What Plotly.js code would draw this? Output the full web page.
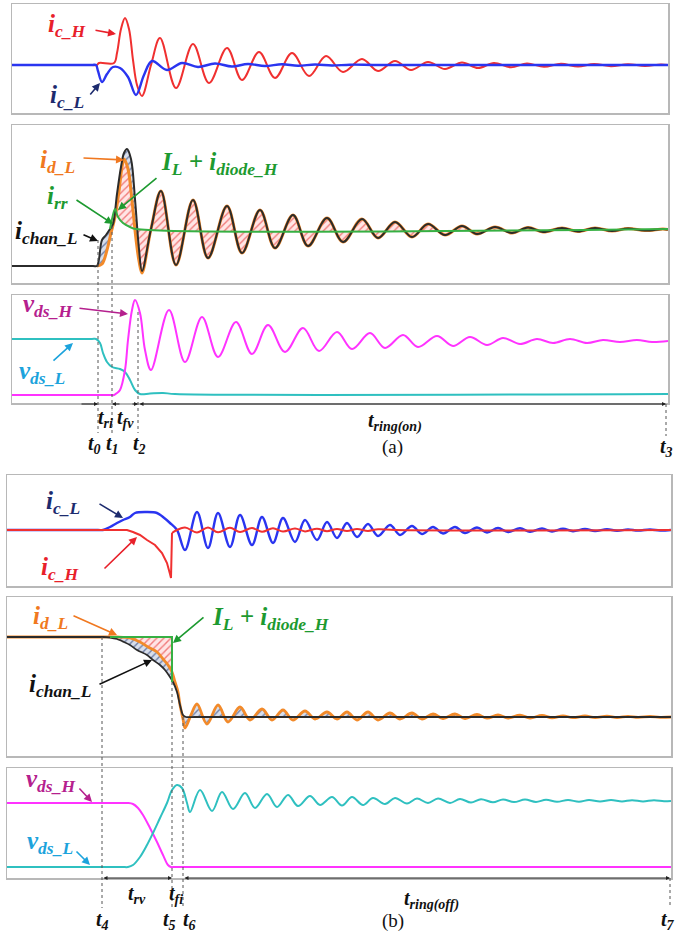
<!DOCTYPE html>
<html><head><meta charset="utf-8">
<script src="https://cdn.plot.ly/plotly-3.0.1.min.js"></script>
<style>html,body{margin:0;padding:0;background:#fff}#chart{width:675px;height:932px}</style>
</head><body><div id="chart"></div>
<script>
// ---------- (a) turn-on: panel 1, capacitor currents (amplitude vs time) ----------
const A1_t_icH = [12,92,97,99,114,117,121,125,129,133,137,142,151,160,176,193,209,227,242,259,275,292,309,326,343,362,378,395,411,428,445,462,478,494,511,527,544,561,578,594,611,628,645,661,668];
const A1_icH   = [0,0,0,2,2,12,36,47,36,5,-20,-31,0,27,-23,21,-18,17,-15,13,-13,12,-11,9,-7,6,-6,4,-5,3,-4,2.5,-3,2,-2.3,1.5,-1.8,1.2,-1.5,1,-1.2,0.8,-1,0.6,0];
const A1_t_icL = [12,92,96,98,102,107,113,120,128,136,144,152,167,182,198,215,232,248,265,282,298,315,332,350,380,668];
const A1_icL   = [0,0,0,-6,-17,-9,-2,-3,-12,-30,-10,4,-5,2,-2,1.5,-1.5,1,-1,0.8,-0.8,0.5,-0.5,0.3,0,0];
// ---------- (a) panel 2, drain / channel currents ----------
const A2_t_chan = [12,93,97,99,102,106,110,113,117,121,124,127,131,135,139,142,151,161,176,193,208,227,242,260,275,293,308,327,343,362,378,395,412,428,445,462,477,495,512,528,543,562,578,595,612,628,645,663,668];
const A2_chan   = [-37,-37,-37,-30,-11,-6,0,5,35,62,76,80,70,30,-20,-42,0,38,-36,29,-29,23,-24,19,-19,14,-17,11,-13,10,-9,7,-8,5,-6,3,-5,2,-4,1.5,-3,1,-2.5,1,-2,0.5,-1.5,0,-0.5];
const A2_t_id = [97,102,107,111,115,119,122,124,128,132,136,139,142,151,161,176,193,208,227,242,260,275,293,308,327,343,362,378,395,412,428,445,462,477,495,512,528,543,562,578,595,612,628,645,663,668];
const A2_id   = [-37,-35,-21,-4,12,38,62,70,60,28,-10,-32,-44,0,38,-36,29,-29,23,-24,19,-19,14,-17,11,-13,10,-9,7,-8,5,-6,3,-5,2,-4,1.5,-3,1,-2.5,1,-2,0.5,-1.5,0,-0.5];
const A2_t_IL = [110,112,115,118,123,130,136,668];
const A2_IL   = [0,10,20,12,6,2,0,0];
// ---------- (a) panel 3, drain-source voltages ----------
const A3_t_vL = [12,92,96,100,103,107,112,120,125,130,135,140,150,163,175,668];
const A3_vL   = [55,55,55,51,41,32,27,25,22,14,4,0,0.5,1,0,0];
const A3_t_vH = [12,110,114,117,120,125,128,132,135,140,145,151,169,185,202,218,236,252,268,285,303,319,337,352,370,385,403,418,437,453,470,487,503,520,537,553,570,587,603,620,637,652,668];
const A3_vH   = [-1,-1,-1,1,4,24,54,84,94,81,44,24,84,32,77,37,72,40,69,42,66,43,62,45,61,46,59,47,58,48,57,49,56,50,55,51,55,51,54,52,54,52,53];
// ---------- (b) turn-off: panel 4, capacitor currents ----------
const B1_t_icL = [7,98,103,110,117,123,130,135,147,157,163,170,177,185,197,208,218,230,240,252,262,273,283,295,305,317,327,337,347,357,368,378,390,400,412,422,433,443,455,465,477,487,498,508,520,530,542,552,563,573,585,595,607,617,628,638,650,660,671];
const B1_icL   = [0,0,0,3,7,10,13,17,18,17,13,7,0,-20,18,-18,17,-17,15,-15,13,-13,12,-12,10,-10,8,-8,7,-7,6,-6,5,-5,4,-4,3,-3.5,3,-3,2.5,-2.5,2,-2,1.8,-1.8,1.5,-1.5,1.2,-1.2,1,-1,0.8,-0.8,0.6,-0.6,0.5,-0.5,0];
const B1_t_icH = [7,127,133,140,147,155,162,167,170,171,172,175,185,197,208,218,230,240,252,262,273,283,295,305,317,327,337,347,357,368,378,395,671];
const B1_icH   = [0,0,-2,-5,-10,-15,-23,-33,-44,-48,-3,-1,2.5,-2.5,2.5,-2.3,2.2,-2,2,-1.8,1.8,-1.6,1.5,-1.4,1.3,-1.2,1.1,-1,1,-0.9,0.8,0,0];
// ---------- (b) panel 5, drain / channel currents ----------
const B2_t_chan = [7,98,103,110,117,124,130,137,147,153,160,165,170,173,177,180,183,186,195,671];
const B2_chan   = [80,80,80,79.5,78,75,72,67,62,57,52,47,40,35,25,12,2,0,0,0];
const B2_t_id = [7,98,103,117,130,140,148,157,163,168,172,175,178,180,183,185,191,197,207,218,228,240,250,262,272,283,293,305,315,327,337,347,357,368,378,390,400,412,422,433,443,455,465,477,487,498,508,520,530,542,552,563,573,585,595,607,617,628,638,650,660,671];
const B2_id   = [80,80,80,80,79,75,70,65,58,52,45,35,25,12,-2,-11,2,13,-7,12,-5,10,-3,8,-3,7,-3,6,-2,5,-2,5,-3,5,-3,4,-2,4,-2,3,-1.5,3,-1.5,2.5,-1.2,2,-1,1.8,-1,1.5,-0.8,1.2,-0.7,1,-0.6,0.8,-0.5,0.6,-0.4,0.5,-0.3,0];
const B2_t_IL = [110,172,172];
const B2_IL   = [80,80,35];
// ---------- (b) panel 6, drain-source voltages ----------
const B3_t_vH = [7,122,128,133,138,143,150,157,163,168,171,175,671];
const B3_vH   = [64,64,64,63,59,52,39,25,12,2,0,0,0];
const B3_t_vL = [7,122,128,133,140,147,153,160,167,172,177,182,187,190,200,212,222,233,245,255,267,277,288,298,310,320,332,342,352,363,373,385,395,407,417,428,438,450,460,471,481,493,503,514,525,536,546,557,568,579,589,600,611,622,632,643,654,664,671];
const B3_vL   = [0,0,0,2,10,22,34,49,64,77,82,79,64,55,77,56,75,58,74,59,73,60,72,61,71,62,70,61.5,70,62,69,63,69,63.5,68.5,64,68.5,64,68,64.5,67.8,64.7,67.6,64.9,67.4,65,67.2,65.2,67,65.3,67,65.4,66.9,65.5,66.8,65.6,66.7,65.7,66];

// ---------- layout helpers ----------
const W = 675, H = 932;
const X = px => px / W, Y = py => 1 - py / H;
const panels = [
  {x:[12,668], top:4,   bot:113, r:[-48,61]},
  {x:[12,668], top:125, bot:283, r:[-54,104]},
  {x:[12,668], top:295, bot:403, r:[-9,99]},
  {x:[7,671],  top:475, bot:586, r:[-56,55]},
  {x:[7,671],  top:597, bot:756, r:[-39,120]},
  {x:[7,671],  top:768, bot:878, r:[-11,99]}
];
const COL = {red:'#f03030', blue:'#2a35f0', black:'#2b2b2b', orange:'#f28a2a', green:'#36b043',
             mag:'#ff33ff', cyan:'#2fc0c0', navy:'#1d2b6e', gtext:'#1d9a30', mtext:'#b5208e', ctext:'#1ca3dc', otext:'#f07820', rtext:'#e8202a'};
const SERIF = '"Liberation Serif", "Times New Roman", Times, "DejaVu Serif", serif';

function ax(k){ return k===1 ? '' : String(k); }
function seg(t, v, lo, hi){ const T=[],V=[]; t.forEach((x,i)=>{ if(x>=lo && x<=hi){T.push(x);V.push(v[i]);} }); return [T,V]; }
function ln(t, v, k, color, width, shape, sm){
  return {type:'scatter', mode:'lines', x:t, y:v, xaxis:'x'+ax(k), yaxis:'y'+ax(k),
    line:{color:color, width:width, shape:shape||'spline', smoothing:(sm==null?1:sm)}, hoverinfo:'skip', showlegend:false};
}
function fillPair(bt, bv, tt, tv, k, fg, bg, bshape, tshape){
  const base = ln(bt, bv, k, 'rgba(0,0,0,0)', 0, bshape, 1);
  const top = ln(tt, tv, k, 'rgba(0,0,0,0)', 0, tshape, 1);
  top.fill = 'tonexty';
  top.fillcolor = bg;
  top.fillpattern = {shape:'/', fgcolor:fg, bgcolor:bg, size:5, solidity:0.28};
  return [base, top];
}
const PINK = ['#f07a7a','rgba(255,225,225,0.85)'];
const GREY = ['#6f7fa6','rgba(214,220,234,0.95)'];

const data = [];
// panel 1
data.push(ln(A1_t_icH, A1_icH, 1, COL.red, 2));
data.push(ln(A1_t_icL, A1_icL, 1, COL.blue, 2.4));
// panel 2 fills
{ const [tt,tv] = seg(A2_t_id, A2_id, 110, 668);
  data.push(...fillPair(A2_t_IL, A2_IL, tt, tv, 2, PINK[0], PINK[1])); }
{ const [bt,bv] = seg(A2_t_id, A2_id, 97, 142); const [tt,tv] = seg(A2_t_chan, A2_chan, 97, 142);
  data.push(...fillPair(bt, bv, tt, tv, 2, GREY[0], GREY[1])); }
data.push(ln(A2_t_id, A2_id, 2, COL.orange, 3));
data.push(ln(A2_t_chan, A2_chan, 2, COL.black, 2));
data.push(ln(A2_t_IL, A2_IL, 2, COL.green, 2));
// panel 3
data.push(ln(A3_t_vL, A3_vL, 3, COL.cyan, 2));
data.push(ln(A3_t_vH, A3_vH, 3, COL.mag, 2));
// panel 4
data.push(ln(B1_t_icL, B1_icL, 4, COL.blue, 2.4));
{ const [t1,v1] = seg(B1_t_icH, B1_icH, 7, 172); const [t2,v2] = seg(B1_t_icH, B1_icH, 172, 671);
  data.push(ln(t1, v1, 4, COL.red, 2, 'linear'));
  data.push(ln(t2, v2, 4, COL.red, 2)); }
// panel 5 fills
{ const [tt,tv] = seg(B2_t_id, B2_id, 103, 175);
  data.push(...fillPair(B2_t_IL, B2_IL, tt, tv, 5, PINK[0], PINK[1], 'linear', 'spline')); }
{ const [bt,bv] = seg(B2_t_chan, B2_chan, 103, 671); const [tt,tv] = seg(B2_t_id, B2_id, 103, 671);
  data.push(...fillPair(bt, bv, tt, tv, 5, GREY[0], GREY[1])); }
data.push(ln(B2_t_id, B2_id, 5, COL.orange, 2.8));
data.push(ln(B2_t_chan, B2_chan, 5, COL.black, 1.8, 'spline', 0.8));
data.push(ln(B2_t_IL, B2_IL, 5, COL.green, 2, 'linear'));
// panel 6
data.push(ln(B3_t_vH, B3_vH, 6, COL.mag, 2));
data.push(ln(B3_t_vL, B3_vL, 6, COL.cyan, 2));

const layout = {width:W, height:H, margin:{l:0,r:0,t:0,b:0}, paper_bgcolor:'#fff', plot_bgcolor:'#fff', showlegend:false};
panels.forEach((p,i)=>{
  const k = i+1;
  layout['xaxis'+ax(k)] = {domain:[X(p.x[0]), X(p.x[1])], range:p.x, anchor:'y'+ax(k), showgrid:false, zeroline:false,
    showticklabels:false, ticks:'', showline:true, mirror:true, linecolor:'#b8b8b8', linewidth:1.5, fixedrange:true};
  layout['yaxis'+ax(k)] = {domain:[Y(p.bot), Y(p.top)], range:p.r, anchor:'x'+ax(k), showgrid:false, zeroline:false,
    showticklabels:false, ticks:'', showline:true, mirror:true, linecolor:'#b8b8b8', linewidth:1.5, fixedrange:true};
});

// ---------- annotations ----------
const ann = [], shp = [];
function lab(html, cx, cy, color, size, plain){
  const f = {family:SERIF, size:size, color:color};
  if(!plain){ f.weight = 'bold'; f.style = 'italic'; }
  ann.push({xref:'paper', yref:'paper', x:X(cx), y:Y(cy), text:html, showarrow:false, xanchor:'center', yanchor:'middle', font:f});
}
function arr(tx, ty, sx, sy, color, w, side, hs){
  ann.push({xref:'paper', yref:'paper', x:X(tx), y:Y(ty), ax:sx-tx, ay:sy-ty, axref:'pixel', ayref:'pixel', text:'',
    showarrow:true, arrowhead:2, arrowsize:hs||1, arrowwidth:w||1.5, arrowcolor:color, arrowside:side||'end', standoff:0, startstandoff:0});
}
function vdot(x, y0, y1){
  shp.push({type:'line', xref:'paper', yref:'paper', x0:X(x), x1:X(x), y0:Y(y0), y1:Y(y1), line:{color:'#555', width:1, dash:'dot'}});
}
const LS = 25, TS = 20;
// (a)
lab('i<sub>c_H</sub>', 67, 25, COL.rtext, LS);   arr(116, 34, 94, 30, COL.rtext, 1.6);
lab('i<sub>c_L</sub>', 67, 97, COL.navy, LS);    arr(100, 83, 89, 96, COL.navy, 1.6);
lab('i<sub>d_L</sub>', 58, 162, COL.otext, LS);  arr(124, 160, 82, 158, COL.otext, 1.6);
lab('I<sub>L</sub> + i<sub>diode_H</sub>', 220, 163, COL.gtext, LS); arr(118, 210, 158, 177, COL.gtext, 1.6);
lab('i<sub>rr</sub>', 57, 198, COL.gtext, LS);   arr(113, 224, 75, 199, COL.gtext, 1.6);
lab('i<sub>chan_L</sub>', 46, 232, '#111', LS);  arr(98, 241, 82, 234, '#111', 1.6);
lab('v<sub>ds_H</sub>', 48, 305, COL.mtext, LS); arr(128, 314, 78, 308, COL.mtext, 1.6);
lab('v<sub>ds_L</sub>', 42, 372, COL.ctext, LS); arr(73, 343, 52, 362, COL.ctext, 1.6);
vdot(98, 240, 433); vdot(112, 226, 433); vdot(138, 312, 433); vdot(666, 404, 436);
arr(98, 404, 80, 404, '#222', 1, 'end', 0.8);
arr(112, 404, 121, 404, '#222', 1, 'end', 0.8);
arr(138, 404, 131, 404, '#222', 1, 'end', 0.8);
arr(666, 404, 138, 404, '#222', 1, 'end+start', 0.8);
lab('t<sub>ri</sub>', 105, 418, '#111', TS);
lab('t<sub>fv</sub>', 125, 418, '#111', TS);
lab('t<sub>0</sub>', 94, 445, '#111', TS);
lab('t<sub>1</sub>', 113, 445, '#111', TS);
lab('t<sub>2</sub>', 139, 445, '#111', TS);
lab('t<sub>ring(on)</sub>', 395, 422, '#111', TS);
lab('t<sub>3</sub>', 666, 447, '#111', TS);
lab('(a)', 392, 447, '#111', 19, true);
// (b)
lab('i<sub>c_L</sub>', 63, 502, COL.navy, LS);   arr(123, 518, 98, 503, COL.navy, 1.6);
lab('i<sub>c_H</sub>', 60, 568, COL.rtext, LS);  arr(137, 537, 103, 570, COL.rtext, 1.6);
lab('i<sub>d_L</sub>', 50, 617, COL.otext, LS);  arr(117, 635, 72, 615, COL.otext, 1.6);
lab('I<sub>L</sub> + i<sub>diode_H</sub>', 271, 618, COL.gtext, LS); arr(173, 643, 205, 616, COL.gtext, 1.6);
lab('i<sub>chan_L</sub>', 60, 685, '#111', LS);  arr(152, 660, 98, 685, '#111', 1.6);
lab('v<sub>ds_H</sub>', 51, 780, COL.mtext, LS); arr(92, 802, 78, 787, COL.mtext, 1.6);
lab('v<sub>ds_L</sub>', 50, 842, COL.ctext, LS); arr(90, 865, 75, 850, COL.ctext, 1.6);
vdot(102, 637, 908); vdot(172, 682, 908); vdot(183, 717, 908); vdot(670, 878, 908);
arr(172, 878, 102, 878, '#222', 1, 'end+start', 0.8);
arr(670, 878, 183, 878, '#222', 1, 'end+start', 0.8);
lab('t<sub>rv</sub>', 137, 894, '#111', TS);
lab('t<sub>fi</sub>', 176, 894, '#111', TS);
lab('t<sub>4</sub>', 102, 920, '#111', TS);
lab('t<sub>5</sub>', 170, 920, '#111', TS);
lab('t<sub>6</sub>', 189, 920, '#111', TS);
lab('t<sub>ring(off)</sub>', 431, 900, '#111', TS);
lab('t<sub>7</sub>', 668, 920, '#111', TS);
lab('(b)', 393, 921, '#111', 19, true);

layout.annotations = ann;
layout.shapes = shp;
Plotly.newPlot('chart', data, layout, {displayModeBar:false, staticPlot:true});
</script></body></html>
